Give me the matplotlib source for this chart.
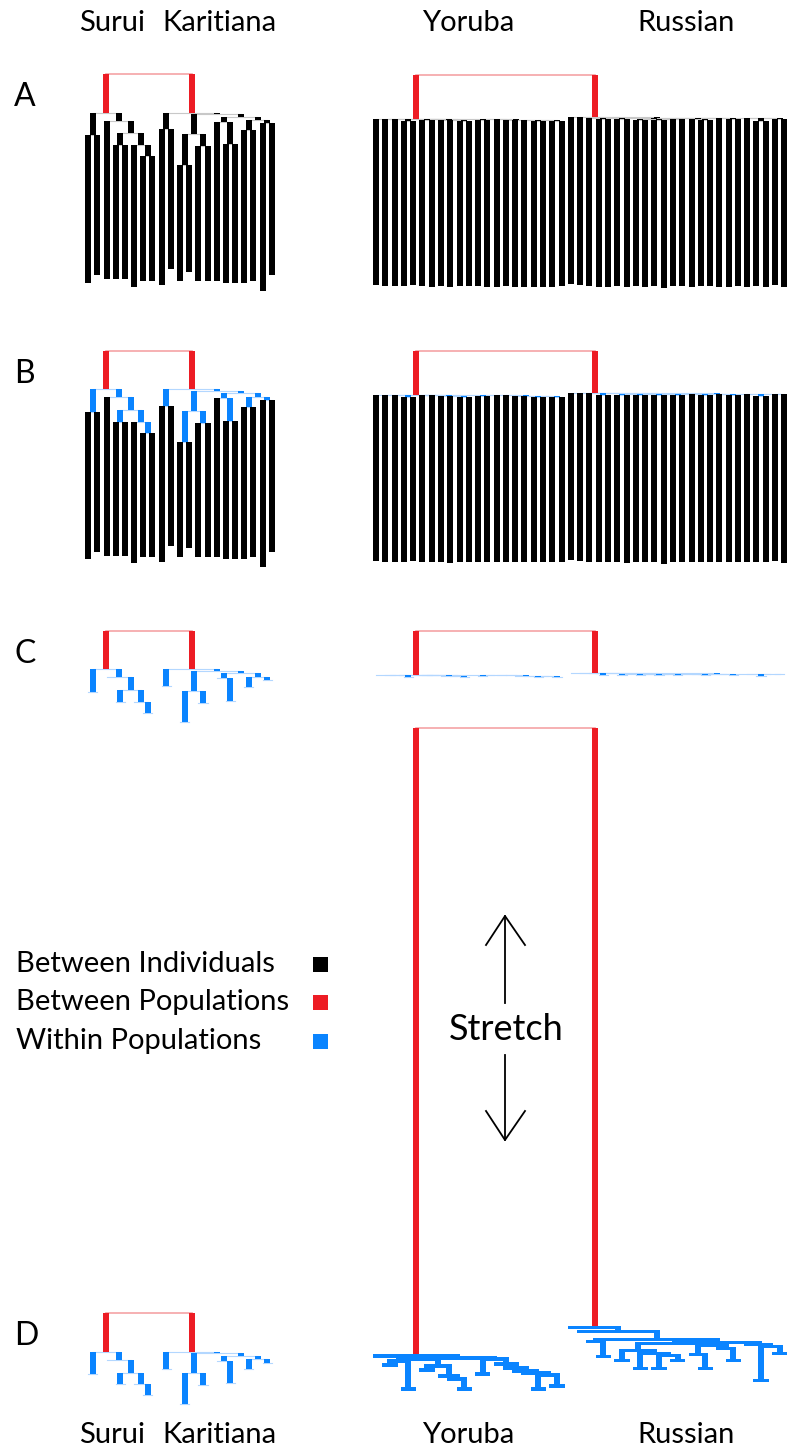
import numpy as np
import matplotlib.pyplot as plt
from matplotlib.patches import Rectangle

plt.rcParams['font.family'] = ['Lato', 'DejaVu Sans']

RED = '#ed1c24'
RED_LINK = '#f5a3a6'
BLUE = '#0a84ff'
BLUE_LINK = '#b3d7ff'
GREY_LINK = '#c8c8c8'
BAR_W = 6.0
STRETCH = 14.3

# ---------------------------------------------------------------
# trees: merge i joins (left[i], right[i]) at depth[i]
# leaves are 0..n-1, merged nodes get n, n+1, ... ; last merge = population root
# depths / tips in px below the population root
# ---------------------------------------------------------------
surui_left = [0, 3, 6, 5, 9, 2, 8]
surui_right = [1, 4, 7, 10, 11, 12, 13]
surui_depth = [22.3, 32.3, 43.3, 32.3, 20.6, 8.0, 0.0]
surui_tips = [170.0, 162.3, 166.6, 166.6, 166.6, 174.0, 168.0, 168.0]

kari_left = [0, 2, 4, 14, 7, 6, 9, 11, 19, 18, 16, 13]
kari_right = [1, 3, 5, 15, 8, 17, 10, 12, 20, 21, 22, 23]
kari_depth = [16.6, 52.3, 33.3, 21.3, 31.3, 9.0, 17.3, 10.6, 7.3, 4.0, 1.3, 0.0]
kari_tips = [172.3, 156.6, 168.0, 159.0, 168.0, 168.0, 168.0, 170.0, 170.0, 170.0,
             168.0, 178.0, 162.3]

# Yoruba / Russian internal depths are given in stretched units (divide by STRETCH)
yor_left = [1, 3, 21, 5, 9, 8, 7, 24, 23, 11, 17, 19, 31, 16, 15, 14, 13, 30, 29, 0]
yor_right = [2, 4, 22, 6, 10, 25, 26, 27, 28, 12, 18, 20, 32, 33, 34, 35, 36, 37, 38, 39]
yor_depth = [9, 33, 5, 14, 33, 23, 20, 10, 3, 18, 33, 30, 19, 17, 15, 12, 8, 3, 2, 0]
yor_tips = [166.2, 167.2, 167.2, 167.2, 166.2, 167.2, 167.9, 167.2, 168.5, 167.2, 167.2,
            167.2, 167.9, 167.9, 167.2, 167.9, 167.9, 167.9, 167.9, 167.9, 167.2]

rus_left = [3, 2, 5, 7, 9, 11, 28, 27, 26, 14, 13, 17, 16, 34, 32, 20, 22, 39, 19, 38, 25, 1, 0]
rus_right = [4, 24, 6, 8, 10, 12, 29, 30, 31, 15, 33, 18, 35, 36, 37, 21, 23, 40, 41, 42, 43, 44, 45]
rus_depth = [29, 14, 33, 41, 41, 33, 28, 26, 23, 41, 27, 33, 21, 18, 16, 53, 26, 19, 17, 15, 12, 4, 0]
rus_tips = [167.2, 168.2, 169.2, 169.9, 169.9, 169.2, 170.5, 169.2, 169.9, 169.2, 171.5, 169.2,
            169.2, 169.9, 169.2, 169.2, 169.9, 169.9, 169.2, 169.9, 169.2, 169.9, 168.2, 170.5]

# between-population branch lengths
pop_branch = {'Surui': 38.7, 'Karitiana': 38.7, 'Yoruba': 43.8, 'Russian': 41.8}

panels = ['A', 'B', 'C', 'D']
top_left = [74.0, 350.7, 630.7, 1313.3]
top_right = [75.0, 350.7, 630.7, 728.0]

legend_labels = ['Between Individuals', 'Between Populations', 'Within Populations']
legend_colors = ['black', RED, BLUE]


def draw_pop(ax, lefts, rights, depths, tips, x0, dx, y_root, k, mode, thick=False):
    n = len(tips)
    xs = list(x0 + dx * np.arange(n))
    ys = list(y_root + np.asarray(tips, dtype=float))
    for a, b, d in zip(lefts, rights, depths):
        xs.append((xs[a] + xs[b]) / 2)
        ys.append(y_root + d * k)
    if mode == 'A':
        link = GREY_LINK
    else:
        link = BLUE_LINK
    for i, (a, b) in enumerate(zip(lefts, rights)):
        y0 = ys[n + i]
        if thick:
            ax.barh(y0 + 1.7, xs[b] - xs[a] + BAR_W, height=3.4, left=xs[a] - BAR_W / 2,
                    color=BLUE, lw=0, zorder=2)
        else:
            ax.plot([xs[a], xs[b]], [y0, y0], color=link, lw=0.8, zorder=1)
        for c in (a, b):
            leaf = c < n
            if leaf and mode in ('C', 'D'):
                continue
            col = 'black' if (leaf or mode == 'A') else BLUE
            ax.bar(xs[c], ys[c] - y0, bottom=y0, width=BAR_W, color=col, lw=0, zorder=3)
    return xs[-1]


fig = plt.figure(figsize=(7.91, 14.5), dpi=100)
ax = fig.add_axes([0, 0, 1, 1])
ax.set_xlim(0, 791)
ax.set_ylim(1450, 0)
ax.axis('off')

for p, yl, yr in zip(panels, top_left, top_right):
    # left pair: Surui / Karitiana, never stretched
    ys_root = yl + pop_branch['Surui']
    yk_root = yl + pop_branch['Karitiana']
    xs_root = draw_pop(ax, surui_left, surui_right, surui_depth, surui_tips,
                       88.3, 9.17, ys_root, 1.0, p)
    xk_root = draw_pop(ax, kari_left, kari_right, kari_depth, kari_tips,
                       88.3 + 8 * 9.17, 9.17, yk_root, 1.0, p)
    ax.plot([xs_root, xk_root], [yl, yl], color=RED_LINK, lw=1.2, zorder=1)
    ax.bar([xs_root, xk_root], [ys_root - yl, yk_root - yl], bottom=yl, width=BAR_W,
           color=RED, lw=0, zorder=3)

    # right pair: Yoruba / Russian, stretched in panel D
    s = STRETCH if p == 'D' else 1.0
    k = s / STRETCH
    yy_root = yr + pop_branch['Yoruba'] * s
    yr_root = yr + pop_branch['Russian'] * s
    xy_root = draw_pop(ax, yor_left, yor_right, yor_depth, yor_tips,
                       376.0, 9.28, yy_root, k, p, thick=(p == 'D'))
    xr_root = draw_pop(ax, rus_left, rus_right, rus_depth, rus_tips,
                       376.0 + 21 * 9.28, 9.28, yr_root, k, p, thick=(p == 'D'))
    ax.plot([xy_root, xr_root], [yr, yr], color=RED_LINK, lw=1.2, zorder=1)
    ax.bar([xy_root, xr_root], [yy_root - yr, yr_root - yr], bottom=yr, width=BAR_W,
           color=RED, lw=0, zorder=3)

    ax.text(14, yl + 32, p, fontsize=23, va='baseline', ha='left')

# population names, top and bottom
for yb in (31, 1443):
    ax.text(112, yb, 'Surui', fontsize=21, ha='center', va='baseline')
    ax.text(219, yb, 'Karitiana', fontsize=21, ha='center', va='baseline')
    ax.text(468, yb, 'Yoruba', fontsize=21, ha='center', va='baseline')
    ax.text(686, yb, 'Russian', fontsize=21, ha='center', va='baseline')

# legend
for i, (lab, col) in enumerate(zip(legend_labels, legend_colors)):
    yb = 971.5 + i * 38.5
    ax.text(16, yb, lab, fontsize=21, ha='left', va='baseline')
    ax.add_patch(Rectangle((313, yb - 15), 15, 15, color=col, lw=0))

# stretch arrows
ax.text(506, 1040, 'Stretch', fontsize=26, ha='center', va='baseline')
ax.plot([505, 505], [1003, 916], color='black', lw=1.3)
ax.plot([486, 505, 525], [945, 916, 945], color='black', lw=1.3)
ax.plot([505, 505], [1055, 1140], color='black', lw=1.3)
ax.plot([486, 505, 525], [1111, 1140, 1111], color='black', lw=1.3)

fig.savefig('out.png', dpi=100)
